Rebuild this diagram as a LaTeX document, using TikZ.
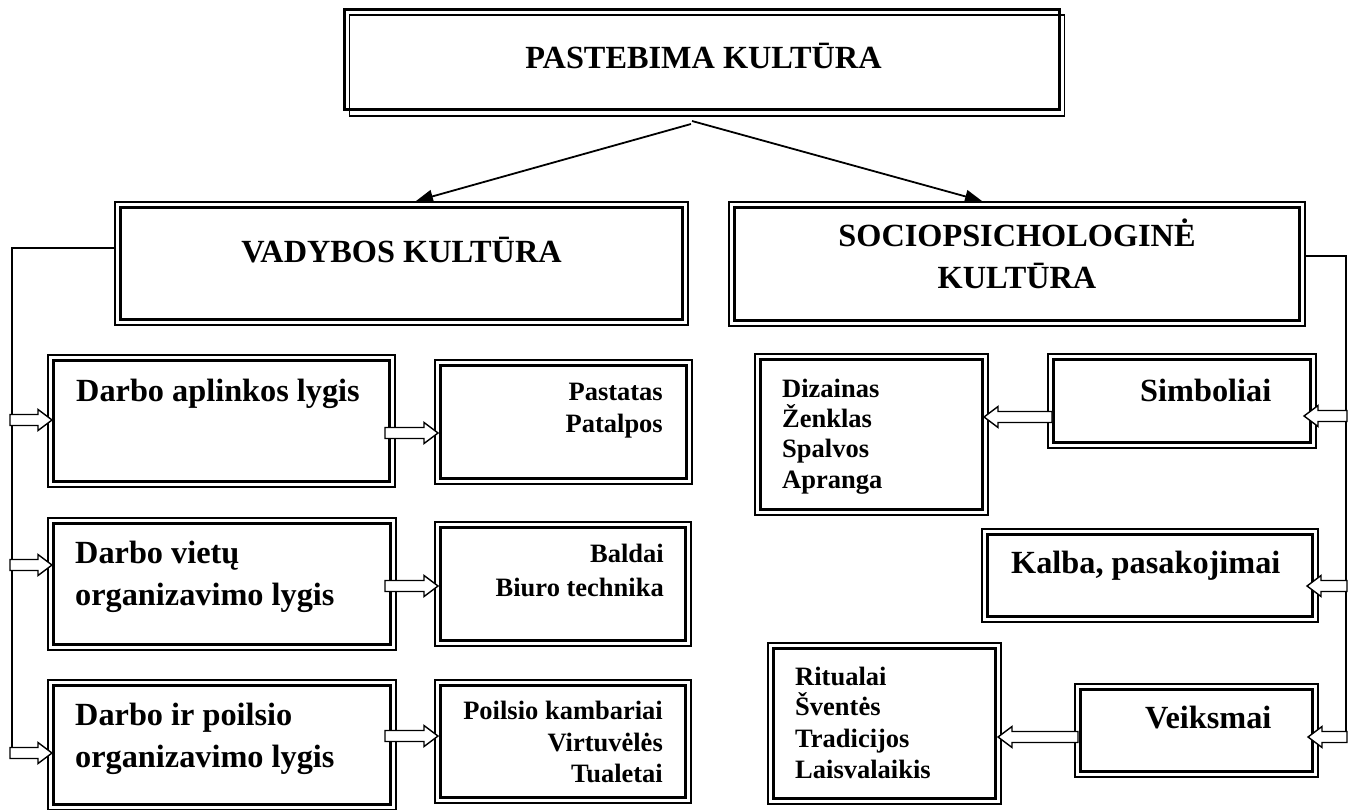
\documentclass[tikz,border=0pt]{standalone}
\usepackage{fontspec}
\setmainfont{Liberation Serif}
\usetikzlibrary{calc,arrows.meta,fit}

% white block arrow with an outline, from #1 to the tip #2
\newcommand{\hollowarrow}[2]{%
  \path ($(#2)!14pt!(#1)$) coordinate (hbase);
  \draw[harrow] ($(#1)!5.5pt!90:(#2)$) -- ($(hbase)!5.5pt!-90:(#1)$)
    -- ($(hbase)!10.5pt!-90:(#1)$) -- (#2) -- ($(hbase)!10.5pt!90:(#1)$)
    -- ($(hbase)!5.5pt!90:(#1)$) -- ($(#1)!5.5pt!-90:(#2)$) -- cycle;}

% framed box: thin outer line plus thick inner line
\newcommand{\dblbox}[5]{%
  \node[box, fit={(#2,#3) (#4,#5)}] (#1) {};
  \draw[innerline] ([shift={(5.5pt,5.5pt)}]#1.south west) rectangle ([shift={(-5.5pt,-5.5pt)}]#1.north east);}

\begin{document}
\begin{tikzpicture}[x=1pt,y=-1pt,
  box/.style={draw, line width=1.3pt, inner sep=0pt, outer sep=0pt},
  innerline/.style={line width=2.8pt},
  head/.style={font=\bfseries\fontsize{32.3}{40}\selectfont, inner sep=0pt},
  item/.style={font=\bfseries\fontsize{26.5}{31}\selectfont, inner sep=0pt},
  conn/.style={line width=1.8pt, -{Triangle[length=17pt,width=13pt]}},
  bus/.style={line width=1.5pt},
  harrow/.style={draw, fill=white, line width=1.4pt, line join=miter}]

\useasboundingbox (0,0) rectangle (1350,810);
\fill[white] (0,0) rectangle (1350,810);

% top box with thick-thin frame
\node[inner sep=0pt, outer sep=0pt, fit={(342,8) (1065,117)}] (top) {};
\draw[line width=3pt] (344,9.5) rectangle (1059,110);
\draw[line width=1.3pt] (349.5,15) rectangle (1064.5,116);
\node[head, anchor=base] (ttop) at (703.5,69) {PASTEBIMA KULTŪRA};

% second level
\dblbox{vad}{115}{202}{688}{325}
\node[head, anchor=base] (tvad) at (401.5,263) {VADYBOS KULTŪRA};
\dblbox{soc}{729}{202}{1305}{326}
\node[head, anchor=base] (tsoc1) at (1017,247) {SOCIOPSICHOLOGINĖ};
\node[head, anchor=base] (tsoc2) at (1017,289) {KULTŪRA};

% left column
\dblbox{b1}{48}{355}{395}{487}
\node[head, anchor=base west] (tb1) at (76,402) {Darbo aplinkos lygis};
\dblbox{b2}{48}{518}{396}{650}
\node[head, anchor=base west] (tb2a) at (75,563) {Darbo vietų};
\node[head, anchor=base west] (tb2b) at (75,605) {organizavimo lygis};
\dblbox{b3}{48}{680}{396}{810}
\node[head, anchor=base west] (tb3a) at (75,725) {Darbo ir poilsio};
\node[head, anchor=base west] (tb3b) at (75,767) {organizavimo lygis};

\dblbox{p1}{435}{360}{692}{484}
\node[item, anchor=base east] (tp1a) at (663,400) {Pastatas};
\node[item, anchor=base east] (tp1b) at (663,432) {Patalpos};
\dblbox{p2}{435}{522}{691}{646}
\node[item, anchor=base east] (tp2a) at (664,562) {Baldai};
\node[item, anchor=base east] (tp2b) at (664,596) {Biuro technika};
\dblbox{p3}{435}{680}{691}{803}
\node[item, anchor=base east] (tp3a) at (663,719) {Poilsio kambariai};
\node[item, anchor=base east] (tp3b) at (663,751) {Virtuvėlės};
\node[item, anchor=base east] (tp3c) at (663,782) {Tualetai};

% right column
\dblbox{dz}{755}{354}{988}{515}
\node[item, anchor=base west] (tdz1) at (782,397) {Dizainas};
\node[item, anchor=base west] (tdz2) at (782,427) {Ženklas};
\node[item, anchor=base west] (tdz3) at (782,457) {Spalvos};
\node[item, anchor=base west] (tdz4) at (782,488) {Apranga};
\dblbox{sim}{1048}{354}{1316}{448}
\node[head, anchor=base west] (tsim) at (1140,401) {Simboliai};
\dblbox{kal}{982}{529}{1318}{622}
\node[head, anchor=base west] (tkal) at (1011,573) {Kalba, pasakojimai};
\dblbox{vei}{1075}{684}{1318}{777}
\node[head, anchor=base west] (tvei) at (1145,728) {Veiksmai};
\dblbox{rit}{768}{643}{1001}{804}
\node[item, anchor=base west] (trit1) at (795,685) {Ritualai};
\node[item, anchor=base west] (trit2) at (795,715) {Šventės};
\node[item, anchor=base west] (trit3) at (795,747) {Tradicijos};
\node[item, anchor=base west] (trit4) at (795,778) {Laisvalaikis};

% connector end points
\coordinate (splitL) at (691,124);
\coordinate (splitR) at (692,121);
\coordinate (vadin) at (416,201);
\coordinate (socin) at (982,201);
\coordinate (vadout) at (116,248);
\coordinate (lbusT) at (12,248);
\coordinate (lbus1) at (10,420);
\coordinate (lbus2) at (10,565);
\coordinate (lbus3) at (10,753);
\coordinate (lbusB) at (12,753);
\coordinate (b1in) at (52,420);
\coordinate (b2in) at (52,565);
\coordinate (b3in) at (52,753);
\coordinate (b1out) at (385,433);
\coordinate (b2out) at (385,586);
\coordinate (b3out) at (385,736);
\coordinate (p1in) at (438,433);
\coordinate (p2in) at (438,586);
\coordinate (p3in) at (438,736);
\coordinate (socout) at (1306,256);
\coordinate (rbusT) at (1346,256);
\coordinate (rbus1) at (1347,416);
\coordinate (rbus2) at (1347,586);
\coordinate (rbus3) at (1347,737);
\coordinate (rbusB) at (1346,737);
\coordinate (simin) at (1304,416);
\coordinate (kalin) at (1307,586);
\coordinate (veiin) at (1308,737);
\coordinate (simout) at (1052,417);
\coordinate (dzin) at (984,417);
\coordinate (veiout) at (1078,737);
\coordinate (ritin) at (998,737);

% connectors
\draw[conn] (splitL) -- (vadin);
\draw[conn] (splitR) -- (socin);
\draw[bus] (vadout) -- (lbusT) -- (lbusB);
\draw[bus] (socout) -- (rbusT) -- (rbusB);

\hollowarrow{lbus1}{b1in}
\hollowarrow{lbus2}{b2in}
\hollowarrow{lbus3}{b3in}
\hollowarrow{b1out}{p1in}
\hollowarrow{b2out}{p2in}
\hollowarrow{b3out}{p3in}
\hollowarrow{rbus1}{simin}
\hollowarrow{rbus2}{kalin}
\hollowarrow{rbus3}{veiin}
\hollowarrow{simout}{dzin}
\hollowarrow{veiout}{ritin}
\end{tikzpicture}
\end{document}
